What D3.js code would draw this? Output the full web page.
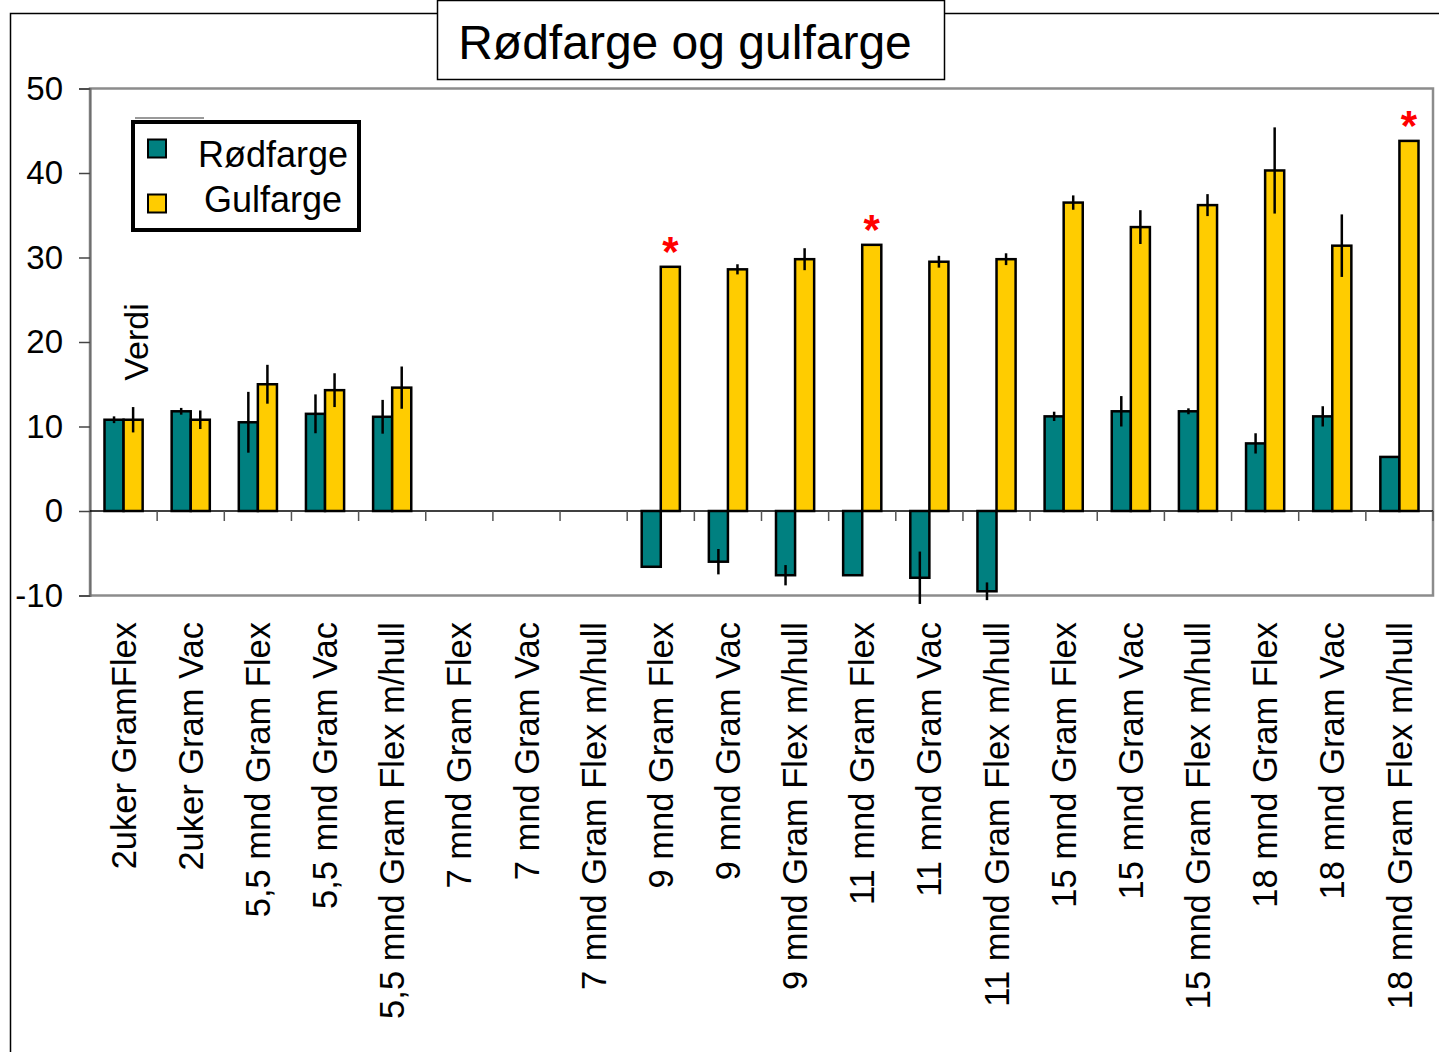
<!DOCTYPE html>
<html>
<head>
<meta charset="utf-8">
<script src="https://cdn.jsdelivr.net/npm/d3@7"></script>
<style>
  body { margin: 0; background: #fff; }
  svg text { font-family: "Liberation Sans", Arial, sans-serif; fill: #000; }
</style>
</head>
<body>
<div id="chartDiv"></div>
<script>
// categories along the x axis
let categories = [
    '2uker GramFlex', '2uker Gram Vac', '5,5 mnd Gram Flex', '5,5 mnd Gram Vac',
    '5,5 mnd Gram Flex m/hull', '7 mnd Gram Flex', '7 mnd Gram Vac', '7 mnd Gram Flex m/hull',
    '9 mnd Gram Flex', '9 mnd Gram Vac', '9 mnd Gram Flex m/hull', '11 mnd Gram Flex',
    '11 mnd Gram Vac', '11 mnd Gram Flex m/hull', '15 mnd Gram Flex', '15 mnd Gram Vac',
    '15 mnd Gram Flex m/hull', '18 mnd Gram Flex', '18 mnd Gram Vac', '18 mnd Gram Flex m/hull'
];

// series values (null = no measurement)
let rodfarge = [10.8, 11.8, 10.5, 11.5, 11.15, null, null, null, -6.6, -6.0,
    -7.6, -7.6, -7.9, -9.5, 11.2, 11.8, 11.8, 8.0, 11.2, 6.4];
let rodfargeErr = [0.4, 0.4, 3.6, 2.3, 2.0, null, null, null, 0, 1.5,
    1.2, 0, 3.1, 1.05, 0.55, 1.8, 0.35, 1.2, 1.2, 0];
let gulfarge = [10.8, 10.8, 15.0, 14.3, 14.6, null, null, null, 28.9, 28.6,
    29.8, 31.5, 29.5, 29.8, 36.5, 33.6, 36.2, 40.3, 31.4, 43.8];
let gulfargeErr = [1.5, 1.1, 2.3, 2.0, 2.5, null, null, null, 0, 0.6,
    1.3, 0, 0.7, 0.7, 0.85, 2.0, 1.3, 5.1, 3.7, 0];

// categories whose yellow bar gets a significance star
let starred = ['9 mnd Gram Flex', '11 mnd Gram Flex', '18 mnd Gram Flex m/hull'];

let yTicks = [-10, 0, 10, 20, 30, 40, 50];
let seriesNames = ['Rødfarge', 'Gulfarge'];
let colors = {'Rødfarge': '#008080', 'Gulfarge': '#FFCC00'};

let width = 1439, height = 1052;
let plot = {left: 90, right: 1433, top: 88.5, bottom: 595.5};

let svg = d3.select('#chartDiv')
    .append('svg')
    .attr('width', width)
    .attr('height', height);

// outer chart border (runs off the page to the right and bottom)
svg.append('rect')
    .attr('x', 10.5).attr('y', 13.5)
    .attr('width', width + 20).attr('height', height + 20)
    .attr('fill', 'none').attr('stroke', '#000').attr('stroke-width', 1.5);

let xScale = d3.scaleBand()
    .domain(categories)
    .range([plot.left, plot.right])
    .padding(0);

let xSub = d3.scaleBand()
    .domain(seriesNames)
    .range([0, xScale.bandwidth()])
    .paddingInner(0)
    .paddingOuter(0.76);

let yScale = d3.scaleLinear()
    .domain([-10, 50])
    .range([plot.bottom, plot.top]);

// plot frame
svg.append('rect')
    .attr('x', plot.left).attr('y', plot.top)
    .attr('width', plot.right - plot.left).attr('height', plot.bottom - plot.top)
    .attr('fill', 'none').attr('stroke', '#8c8c8c').attr('stroke-width', 2.5);

// y axis
let yAxis = svg.append('g')
    .attr('transform', 'translate(' + plot.left + ',0)')
    .call(d3.axisLeft(yScale).tickValues(yTicks).tickSize(11).tickPadding(16)
        .tickFormat(function(d) {return String(d)}));
yAxis.select('.domain').attr('stroke', '#6e6e6e').attr('stroke-width', 2);
yAxis.selectAll('.tick line').attr('stroke', '#444').attr('stroke-width', 1.5);
yAxis.selectAll('.tick text')
    .attr('font-size', 33)
    .attr('font-family', '"Liberation Sans", Arial, sans-serif')
    .attr('fill', '#000');

// zero line with category tick marks
let y0 = yScale(0);
svg.append('line')
    .attr('x1', plot.left).attr('x2', plot.right)
    .attr('y1', y0).attr('y2', y0)
    .attr('stroke', '#000').attr('stroke-width', 1.5);

svg.selectAll('.xtick')
    .data(categories.slice(1).concat(['__end']))
    .enter()
    .append('line')
    .attr('class', 'xtick')
    .attr('x1', function(d) {return d === '__end' ? plot.right : xScale(d)})
    .attr('x2', function(d) {return d === '__end' ? plot.right : xScale(d)})
    .attr('y1', y0).attr('y2', y0 + 10)
    .attr('stroke', '#555').attr('stroke-width', 1.5);

// build one record per bar
let bars = [];
categories.forEach(function(c, i) {
    if (rodfarge[i] !== null) bars.push({cat: c, series: 'Rødfarge', value: rodfarge[i], err: rodfargeErr[i]});
    if (gulfarge[i] !== null) bars.push({cat: c, series: 'Gulfarge', value: gulfarge[i], err: gulfargeErr[i]});
});

svg.selectAll('rect.bar')
    .data(bars)
    .enter()
    .append('rect')
    .attr('class', 'bar')
    .attr('x', function(d) {return xScale(d.cat) + xSub(d.series)})
    .attr('width', xSub.bandwidth())
    .attr('y', function(d) {return Math.min(yScale(d.value), y0)})
    .attr('height', function(d) {return Math.abs(yScale(d.value) - y0)})
    .attr('fill', function(d) {return colors[d.series]})
    .attr('stroke', '#000')
    .attr('stroke-width', 2.5);

// error bars (vertical line, no caps)
svg.selectAll('line.err')
    .data(bars.filter(function(d) {return d.err > 0}))
    .enter()
    .append('line')
    .attr('class', 'err')
    .attr('x1', function(d) {return xScale(d.cat) + xSub(d.series) + xSub.bandwidth() / 2})
    .attr('x2', function(d) {return xScale(d.cat) + xSub(d.series) + xSub.bandwidth() / 2})
    .attr('y1', function(d) {return yScale(d.value - d.err)})
    .attr('y2', function(d) {return yScale(d.value + d.err)})
    .attr('stroke', '#000')
    .attr('stroke-width', 2.5);

// red stars above the marked yellow bars
svg.selectAll('text.star')
    .data(bars.filter(function(d) {return d.series === 'Gulfarge' && starred.indexOf(d.cat) >= 0}))
    .enter()
    .append('text')
    .attr('class', 'star')
    .attr('x', function(d) {return xScale(d.cat) + xSub(d.series) + xSub.bandwidth() / 2})
    .attr('y', function(d) {return yScale(d.value + d.err) - 1})
    .attr('text-anchor', 'middle')
    .attr('font-size', 42)
    .attr('font-weight', 'bold')
    .style('fill', '#ff0000')
    .text('*');

// category labels
svg.selectAll('text.xlabel')
    .data(categories)
    .enter()
    .append('text')
    .attr('class', 'xlabel')
    .attr('transform', function(d) {
        return 'translate(' + (xScale(d) + xScale.bandwidth() / 2) + ',622) rotate(-90)';
    })
    .attr('dy', '0.35em')
    .attr('text-anchor', 'end')
    .attr('font-size', 34.5)
    .text(function(d) {return d});

// y axis title
svg.append('text')
    .attr('transform', 'translate(136,342) rotate(-90)')
    .attr('dy', '0.35em')
    .attr('text-anchor', 'middle')
    .attr('font-size', 34)
    .text('Verdi');

// title box
svg.append('rect')
    .attr('x', 437.5).attr('y', 0.5)
    .attr('width', 507).attr('height', 79)
    .attr('fill', '#fff').attr('stroke', '#000').attr('stroke-width', 1.5);
svg.append('text')
    .attr('x', 685).attr('y', 59)
    .attr('text-anchor', 'middle')
    .attr('font-size', 48)
    .text('Rødfarge og gulfarge');

// legend
svg.append('line')
    .attr('x1', 135).attr('x2', 204).attr('y1', 118).attr('y2', 118)
    .attr('stroke', '#777').attr('stroke-width', 1.5);
let legend = svg.append('g');
legend.append('rect')
    .attr('x', 133).attr('y', 122)
    .attr('width', 226).attr('height', 108)
    .attr('fill', '#fff').attr('stroke', '#000').attr('stroke-width', 4);

let legendItems = legend.selectAll('g.item')
    .data(seriesNames)
    .enter()
    .append('g')
    .attr('class', 'item')
    .attr('transform', function(d, i) {return 'translate(0,' + (i * 55) + ')'});
legendItems.append('rect')
    .attr('x', 148).attr('y', 139.5)
    .attr('width', 18).attr('height', 18)
    .attr('fill', function(d) {return colors[d]})
    .attr('stroke', '#000').attr('stroke-width', 2);
legendItems.append('text')
    .attr('x', function(d, i) {return i === 0 ? 198 : 204})
    .attr('y', function(d, i) {return i === 0 ? 167 : 157})
    .attr('font-size', 36)
    .text(function(d) {return d});
</script>
</body>
</html>
